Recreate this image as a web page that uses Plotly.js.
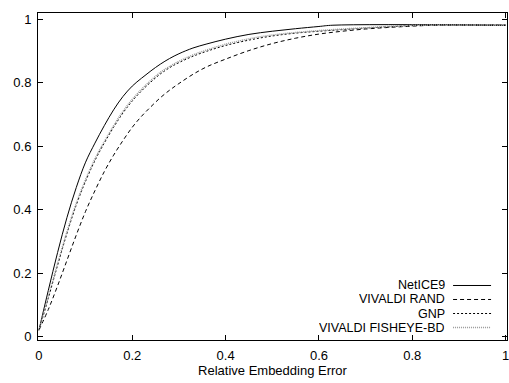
<!DOCTYPE html>
<html>
<head>
<meta charset="utf-8">
<script src="https://cdn.plot.ly/plotly-3.0.1.min.js"></script>
<style>html,body{margin:0;padding:0;background:#fff;}#chart{width:509px;height:383px;}</style>
</head>
<body>
<div id="chart"></div>
<script>
// Series names (legend order)
const seriesNames = ["NetICE9", "VIVALDI RAND", "GNP", "VIVALDI FISHEYE-BD"];

// NetICE9 (solid)
const netice9X = [0, 0.02, 0.04, 0.06, 0.08, 0.10, 0.12, 0.14, 0.16, 0.18, 0.20, 0.22, 0.24, 0.26, 0.28, 0.30, 0.33, 0.36, 0.40, 0.45, 0.50, 0.55, 0.60, 0.63, 1.0];
const netice9Y = [0.02, 0.145, 0.265, 0.375, 0.47, 0.55, 0.61, 0.665, 0.715, 0.757, 0.79, 0.815, 0.838, 0.859, 0.877, 0.892, 0.91, 0.923, 0.938, 0.953, 0.963, 0.971, 0.978, 0.982, 0.982];

// VIVALDI RAND (dashed)
const vivaldiRandX = [0, 0.02, 0.04, 0.06, 0.08, 0.10, 0.12, 0.14, 0.16, 0.18, 0.20, 0.22, 0.24, 0.26, 0.28, 0.30, 0.33, 0.36, 0.40, 0.45, 0.50, 0.55, 0.60, 0.65, 0.70, 0.75, 0.80, 0.85, 1.0];
const vivaldiRandY = [0.02, 0.085, 0.16, 0.24, 0.32, 0.395, 0.46, 0.52, 0.572, 0.618, 0.66, 0.695, 0.725, 0.753, 0.777, 0.798, 0.827, 0.851, 0.875, 0.902, 0.924, 0.941, 0.954, 0.963, 0.97, 0.975, 0.979, 0.982, 0.982];

// GNP (dotted)
const gnpX = [0, 0.02, 0.04, 0.06, 0.08, 0.10, 0.12, 0.14, 0.16, 0.18, 0.20, 0.22, 0.24, 0.26, 0.28, 0.30, 0.33, 0.36, 0.40, 0.45, 0.50, 0.55, 0.60, 0.65, 0.70, 0.75, 0.82, 1.0];
const gnpY = [0.02, 0.12, 0.225, 0.325, 0.415, 0.49, 0.555, 0.61, 0.66, 0.705, 0.743, 0.775, 0.803, 0.828, 0.848, 0.864, 0.884, 0.9, 0.918, 0.935, 0.948, 0.957, 0.963, 0.968, 0.973, 0.977, 0.982, 0.982];

// VIVALDI FISHEYE-BD (grey dotted)
const fisheyeX = [0, 0.02, 0.04, 0.06, 0.08, 0.10, 0.12, 0.14, 0.16, 0.18, 0.20, 0.22, 0.24, 0.26, 0.28, 0.30, 0.33, 0.36, 0.40, 0.45, 0.50, 0.55, 0.60, 0.65, 0.70, 0.75, 0.82, 1.0];
const fisheyeY = [0.02, 0.125, 0.23, 0.33, 0.42, 0.495, 0.56, 0.615, 0.665, 0.71, 0.748, 0.78, 0.808, 0.833, 0.852, 0.868, 0.888, 0.904, 0.922, 0.939, 0.951, 0.959, 0.965, 0.97, 0.974, 0.978, 0.982, 0.982];

const xTickVals = [0, 0.2, 0.4, 0.6, 0.8, 1];
const xTickText = ["0", "0.2", "0.4", "0.6", "0.8", "1"];
const yTickVals = [0, 0.2, 0.4, 0.6, 0.8, 1];
const yTickText = ["0", "0.2", "0.4", "0.6", "0.8", "1"];
const xTitle = "Relative Embedding Error";

const styles = [
  {color: "#000000", dash: "solid", width: 1},
  {color: "#000000", dash: "4px,3px", width: 1},
  {color: "#000000", dash: "2px,2px", width: 1},
  {color: "#999999", dash: "1px,1px", width: 1.5}
];

const xs = [netice9X, vivaldiRandX, gnpX, fisheyeX];
const ys = [netice9Y, vivaldiRandY, gnpY, fisheyeY];

const traces = seriesNames.map((n, i) => ({
  type: "scatter", mode: "lines", name: n, x: xs[i], y: ys[i],
  line: {color: styles[i].color, dash: styles[i].dash, width: styles[i].width, shape: "spline", smoothing: 1},
  showlegend: false, hoverinfo: "skip"
}));

const font = {family: "Liberation Sans, Arial, sans-serif", size: 13, color: "#000"};
const legFont = {family: "Liberation Sans, Arial, sans-serif", size: 12.5, color: "#000"};

// Legend drawn at the bottom right (text right-aligned, sample line to its right)
const legY = [0.1667, 0.1239, 0.0810, 0.0382];
const annotations = seriesNames.map((n, i) => ({
  xref: "paper", yref: "paper", x: 0.8657, y: legY[i], xanchor: "right", yanchor: "middle",
  text: n, showarrow: false, font: legFont, xshift: 2, height: 12, valign: "middle", borderpad: 0
}));
const shapes = seriesNames.map((n, i) => ({
  type: "line", xref: "paper", yref: "paper", x0: 0.885, x1: 0.966, y0: legY[i], y1: legY[i],
  line: {color: styles[i].color, dash: styles[i].dash, width: styles[i].width}
}));

const axisCommon = {
  showgrid: false, zeroline: false, showline: true, linecolor: "#000", linewidth: 1,
  mirror: "ticks", ticks: "inside", ticklen: 5, tickcolor: "#000", tickwidth: 1,
  tickfont: font, ticklabeloverflow: "allow"
};

const layout = {
  width: 509, height: 383,
  margin: {l: 38, r: 2, t: 13, b: 43},
  paper_bgcolor: "#fff", plot_bgcolor: "#fff",
  font: font,
  xaxis: Object.assign({}, axisCommon, {
    range: [-0.002, 1.003], tickvals: xTickVals, ticktext: xTickText,
    ticklabelstandoff: 3,
    title: {text: xTitle, font: font, standoff: 4}
  }),
  yaxis: Object.assign({}, axisCommon, {
    range: [-0.011, 1.0205], tickvals: yTickVals, ticktext: yTickText,
    ticklabelstandoff: 3
  }),
  annotations: annotations,
  shapes: shapes,
  showlegend: false
};

Plotly.newPlot("chart", traces, layout, {displayModeBar: false, staticPlot: true});
</script>
</body>
</html>
